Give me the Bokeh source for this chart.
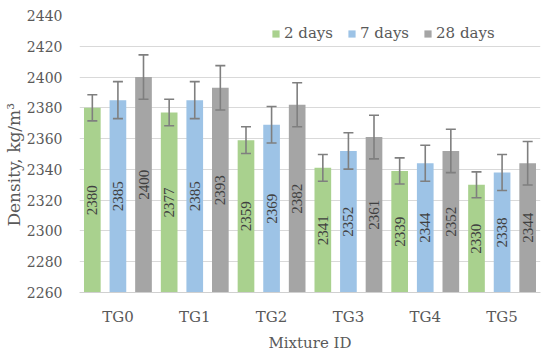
import math
from bokeh.plotting import figure
from bokeh.models import ColumnDataSource, FactorRange, Range1d, Legend, LegendItem
from bokeh.transform import dodge
from bokeh.core.properties import value
from bokeh.embed import file_html
from bokeh.resources import INLINE

mixtures = ["TG0", "TG1", "TG2", "TG3", "TG4", "TG5"]
series = ["2 days", "7 days", "28 days"]
d2 = [2380, 2377, 2359, 2341, 2339, 2330]
d7 = [2385, 2385, 2369, 2352, 2344, 2338]
d28 = [2400, 2393, 2382, 2361, 2352, 2344]
e2 = [8.5, 8.6, 8.7, 8.7, 8.5, 8.4]
e7 = [12.0, 12.0, 11.9, 11.8, 11.7, 11.7]
e28 = [14.4, 14.4, 14.3, 14.2, 14.1, 14.1]
colors = ["#A9D18E", "#9DC3E6", "#A5A5A5"]
y_title = "Density, kg/m³"
x_title = "Mixture ID"

Y0, Y1 = 2260, 2440
SERIF = "DejaVu Serif"

p = figure(width=542, height=354, x_range=FactorRange(*mixtures, range_padding=0),
           y_range=Range1d(Y0, Y1), output_backend="svg", toolbar_location=None,
           min_border_left=70, min_border_right=2, min_border_top=15, min_border_bottom=40)
p.outline_line_color = None
p.background_fill_color = "white"
p.border_fill_color = "white"

offsets = [-0.333, 0.0, 0.333]
renderers = []
for vals, errs, col, off in zip([d2, d7, d28], [e2, e7, e28], colors, offsets):
    src = ColumnDataSource(dict(
        x=mixtures, top=vals,
        lo=[v - e for v, e in zip(vals, errs)],
        hi=[v + e for v, e in zip(vals, errs)],
        mid=[(Y0 + v) / 2 for v in vals],
        lab=[str(v) for v in vals],
    ))
    r = p.vbar(x=dodge("x", off, range=p.x_range), top="top", bottom=Y0, width=0.217,
               source=src, fill_color=col, line_color=None)
    renderers.append(r)
    p.text(x=dodge("x", off, range=p.x_range), y="mid", text="lab", source=src,
           angle=math.pi / 2, text_align="center", text_baseline="middle",
           text_font=value("Liberation Serif"), text_font_size="15px", text_color="#404040")
    p.segment(x0=dodge("x", off, range=p.x_range), x1=dodge("x", off, range=p.x_range),
              y0="lo", y1="hi", source=src, line_color="#7F7F7F", line_width=1.6)
    for fld in ["lo", "hi"]:
        p.scatter(x=dodge("x", off, range=p.x_range), y=fld, source=src, marker="dash",
                  size=10, line_color="#7F7F7F", line_width=1.6)

p.yaxis.ticker = list(range(Y0, Y1 + 1, 20))
p.ygrid.ticker = list(range(Y0, Y1 + 1, 20))
p.ygrid.grid_line_color = "#D9D9D9"
p.ygrid.grid_line_width = 1
p.xgrid.grid_line_color = None

for ax in [p.xaxis[0], p.yaxis[0]]:
    ax.major_tick_line_color = None
    ax.minor_tick_line_color = None
    ax.major_tick_out = 0
    ax.major_tick_in = 0
    ax.major_label_text_font = SERIF
    ax.major_label_text_color = "#595959"
    ax.axis_label_text_font = SERIF
    ax.axis_label_text_font_style = "normal"
    ax.axis_label_text_color = "#595959"

p.yaxis.axis_line_color = None
p.yaxis.major_label_text_font_size = "14px"
p.yaxis.major_label_standoff = 17
p.yaxis.axis_label = y_title + "\u00a0" * 4
p.yaxis.axis_label_text_font_size = "17px"
p.yaxis.axis_label_standoff = 0

p.xaxis.axis_line_color = "#D0D0D0"
p.xaxis.axis_line_width = 1
p.xaxis.major_label_text_font_size = "15px"
p.xaxis.major_label_standoff = 15
p.xaxis.axis_label = x_title
p.xaxis.axis_label_text_font_size = "15px"
p.xaxis.axis_label_standoff = 5

legend = Legend(items=[LegendItem(label=s, renderers=[r]) for s, r in zip(series, renderers)],
                orientation="horizontal", location=(192, 250),
                glyph_width=9, glyph_height=9, label_standoff=4, spacing=14,
                padding=0, margin=0, border_line_color=None, background_fill_alpha=0,
                label_text_font=SERIF, label_text_font_size="15px", label_text_color="#595959")
p.add_layout(legend, "center")

open("out.html", "w").write(file_html(p, INLINE))
